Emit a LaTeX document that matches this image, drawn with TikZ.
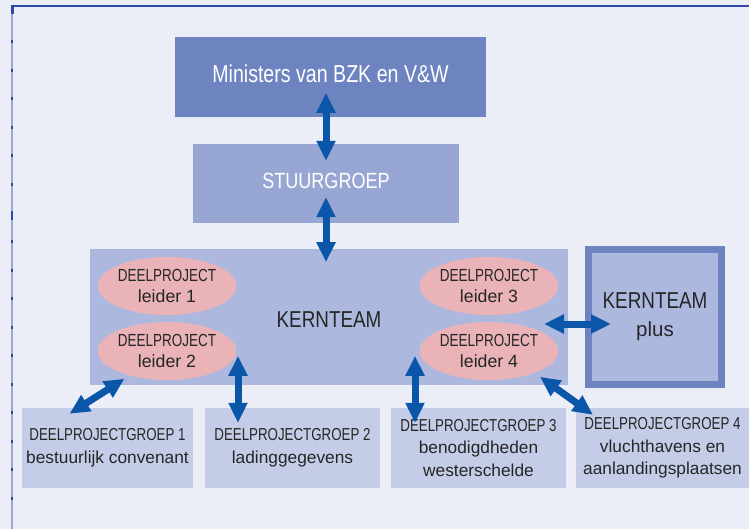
\documentclass[tikz,border=0pt]{standalone}
\usepackage{fontspec}
\setmainfont{Liberation Sans}
\newfontfamily\cnd[FakeStretch=0.82]{Liberation Sans}
\newfontfamily\cndd[FakeStretch=0.77]{Liberation Sans}
\newfontfamily\cndm[FakeStretch=0.8]{Liberation Sans}
\usetikzlibrary{arrows.meta,shapes.geometric,calc}
\definecolor{bg}{HTML}{EBEEF7}
\definecolor{framedark}{HTML}{3049A8}
\definecolor{framelight}{HTML}{9AA8D6}
\definecolor{minc}{HTML}{6E84C0}
\definecolor{stuurc}{HTML}{98A6D4}
\definecolor{kernc}{HTML}{ADB8DE}
\definecolor{ellc}{HTML}{E9B3B8}
\definecolor{dpgc}{HTML}{C5CCE7}
\definecolor{arrowc}{HTML}{0A56A8}
\definecolor{txt}{HTML}{262626}
\newcommand\dcaps[1]{{\cndd\fontsize{17.3}{22.5}\selectfont #1}}
\newcommand\ecaps[1]{{\cndd\fontsize{17.5}{21.3}\selectfont #1}}
\begin{document}
\begin{tikzpicture}[x=1pt,y=-1pt,
  box/.style={rectangle,inner sep=0pt,align=center,text=txt},
  leider/.style={ellipse,fill=ellc,inner sep=0pt,minimum width=133pt,minimum height=58pt,align=center,text=txt,
     font=\fontsize{17.7}{21.3}\selectfont},
  dpg/.style={box,fill=dpgc,minimum height=80pt,font=\fontsize{17.3}{22.5}\selectfont},
  arr/.style={draw=arrowc,line width=7pt,{Triangle[length=20pt,width=18pt]}-{Triangle[length=20pt,width=18pt]}}]
\useasboundingbox (0,0) rectangle (749,529);
\fill[bg] (0,0) rectangle (749,529);
% frame
\draw[framelight,line width=1.5pt] (12,6) -- (12,529);
\draw[framedark,line width=2pt] (11.2,6) -- (749,6);
\fill[framedark] (11,6) rectangle (13.5,14);
\foreach \k in {0,...,16} {
  \fill[framedark] (11,{42+28.5*\k-1.5}) rectangle (13.2,{42+28.5*\k+1.5});
}
\fill[framedark] (11,211) rectangle (13.2,220);
% boxes
\node[box,fill=minc,minimum width=311pt,minimum height=80pt,text=white,font=\cndm\fontsize{24.5}{28}\selectfont]
  (min) at (330.5,77) {\raisebox{3.5pt}[\height][\depth]{Ministers van BZK en V\&W}};
\node[box,fill=stuurc,minimum width=266pt,minimum height=79pt,text=white,font=\cnd\fontsize{22}{26}\selectfont]
  (stuur) at (326,183.5) {\raisebox{2.5pt}[\height][\depth]{STUURGROEP}};
\node[box,fill=kernc,minimum width=478pt,minimum height=136pt,font=\cnd\fontsize{23}{27}\selectfont]
  (kern) at (329,317) {\raisebox{-2.5pt}[\height][\depth]{KERNTEAM}};
\node[box,fill=kernc,draw=minc,line width=7pt,minimum width=133pt,minimum height=135pt,font=\fontsize{20.5}{28}\selectfont]
  (plus) at (655,317) {{\cnd\fontsize{23}{28}\selectfont KERNTEAM}\\plus};
\node[leider] (l1) at (167,286) {\ecaps{DEELPROJECT}\\leider 1};
\node[leider] (l2) at (167,351) {\ecaps{DEELPROJECT}\\leider 2};
\node[leider] (l3) at (489,286) {\ecaps{DEELPROJECT}\\leider 3};
\node[leider] (l4) at (489,351) {\ecaps{DEELPROJECT}\\leider 4};
\node[dpg,minimum width=171pt] (d1) at (107.5,448) {\dcaps{DEELPROJECTGROEP 1}\\bestuurlijk convenant};
\node[dpg,minimum width=175pt] (d2) at (292.5,448) {\dcaps{DEELPROJECTGROEP 2}\\ladinggegevens};
\node[dpg,minimum width=175pt] (d3) at (478.5,448) {\dcaps{DEELPROJECTGROEP 3}\\benodigdheden\\westerschelde};
\node[dpg,minimum width=173pt] (d4) at (662.5,448) {\dcaps{DEELPROJECTGROEP 4}\\vluchthavens en\\aanlandingsplaatsen};
% arrows
\draw[arr] ($(stuur.north)+(0,-51)$) -- ($(stuur.north)+(0,17)$);
\draw[arr] ($(stuur.south)+(0,-26)$) -- ($(stuur.south)+(0,39)$);
\draw[arr] ($(d1.north)+(-38,6)$) -- ($(d1.north)+(17,-29)$);
\draw[arr] ($(d2.north)+(-54.5,-52)$) -- ($(d2.north)+(-54.5,15)$);
\draw[arr] ($(d3.north)+(-63.5,-52)$) -- ($(d3.north)+(-63.5,15)$);
\draw[arr] ($(d4.north)+(-122.5,-31)$) -- ($(d4.north)+(-69.5,7)$);
\draw[arr] ($(plus.west)+(-41,7)$) -- ($(plus.west)+(26,7)$);
\end{tikzpicture}
\end{document}
